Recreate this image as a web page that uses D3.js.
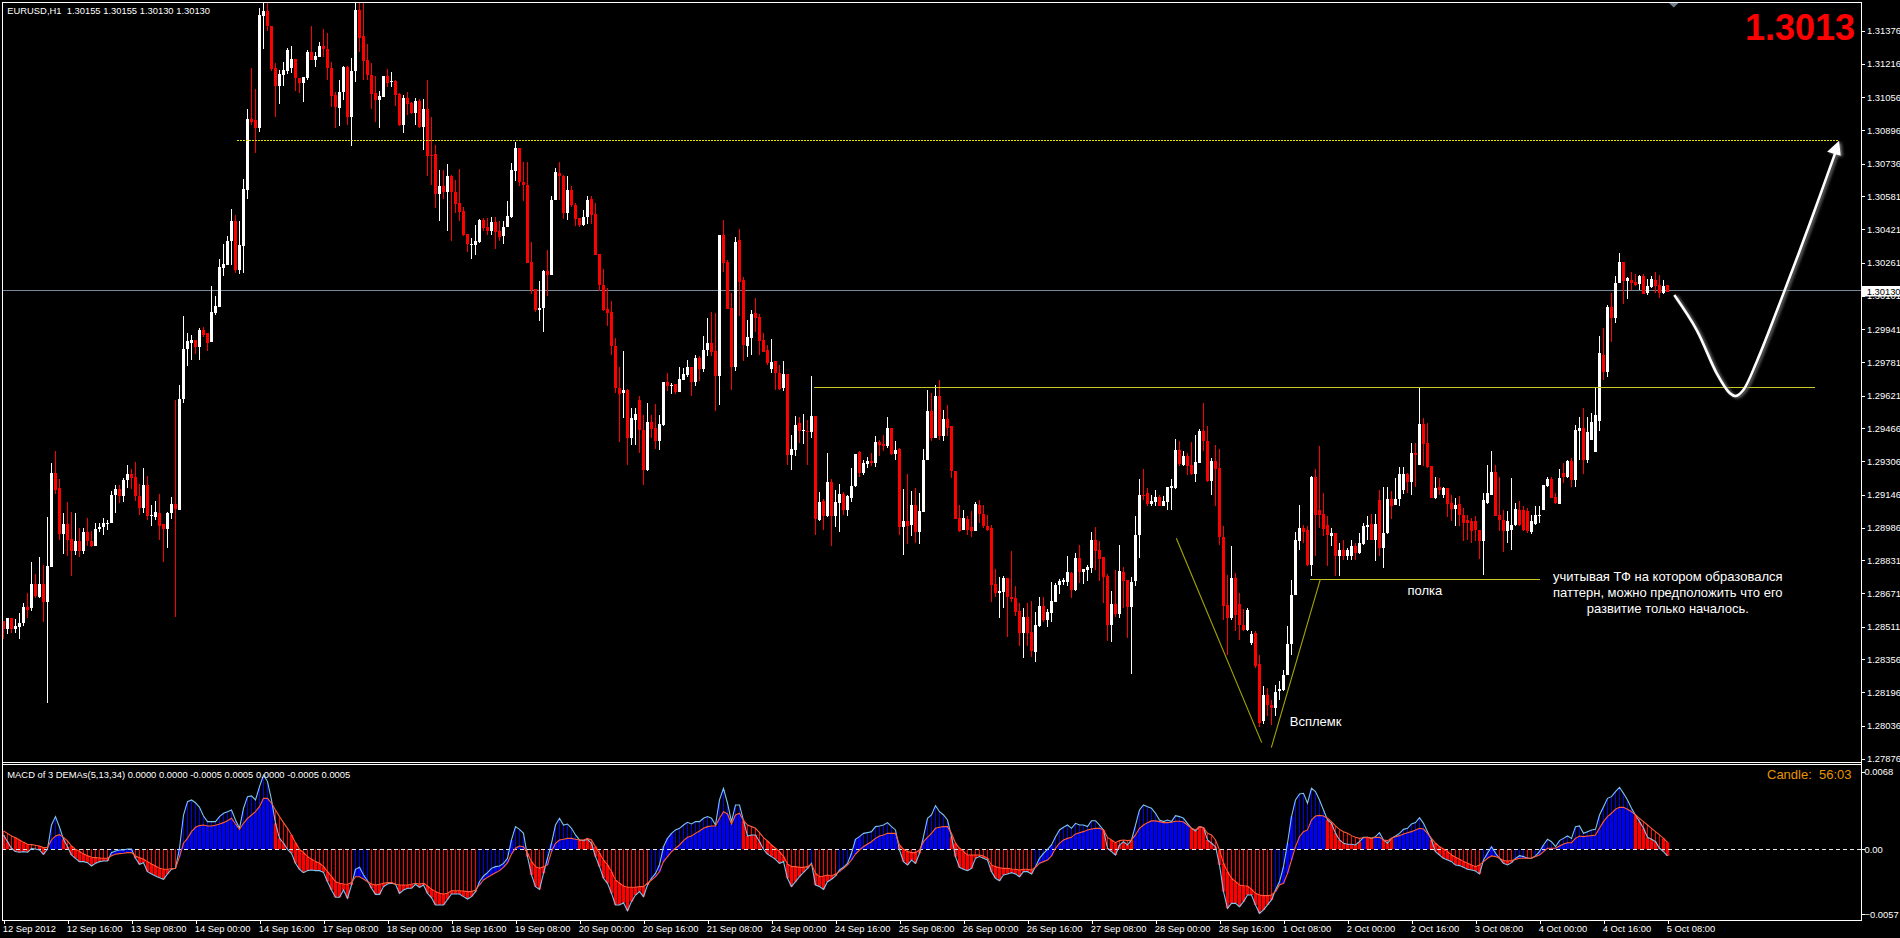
<!DOCTYPE html>
<html><head><meta charset="utf-8">
<script src="https://cdn.jsdelivr.net/npm/d3@7/dist/d3.min.js"></script>
<style>html,body{margin:0;padding:0;background:#000;overflow:hidden}svg{display:block}
text{font-family:"Liberation Sans",Arial,sans-serif;fill:#fff;white-space:pre}</style></head><body>
<svg id="c" width="1900" height="938"></svg>
<script>
// Prices are given in pips above basePrice
const basePrice=1.27;
const opens=[154,150,155.5,150,151,153,160.6,159.9,171.8,165.4,
171.8,162.8,180,224.9,217.7,195.8,200.6,193.2,187.3,192.3,
187.3,196.6,192.4,190,198.2,198.8,200.7,200.9,214.2,217.4,
213.7,221.7,224.6,223,214,208.3,219.3,204.1,204,205.9,
200.3,198.2,205.7,210.2,207.3,260.6,284.6,287.3,288.8,285.6,
293.9,292.3,287.8,301.9,304.8,323.5,325,336.3,346.2,322.7,
334.2,361,395.2,394.7,390.7,444.8,447,440,419.5,411,
416.5,418.4,419.5,424,415,412.3,414.7,427.5,423.5,425,
430.2,428.6,419.5,406.5,400.6,408,420.3,396,418.2,447.5,
435,423.5,416.3,407.5,404.3,405.9,415.8,412.9,413.4,407.2,
392.3,405.3,402.7,397.9,403.8,391.2,400,377.9,378.4,359.2,
363,360,367.8,360.1,354.7,350.9,339.8,334.9,334.7,336,
346.4,343.2,341.1,345.6,341.1,338.7,343.2,348,370.2,381.4,
364.9,363.5,326.4,313.6,303.5,304.5,321.9,320.3,356,369.3,
367.8,349.9,361.1,353.9,347.7,344.3,348,356.6,349.6,330.2,
315.5,304,302.4,285.9,265.7,263.3,264.9,241.7,250.5,260,
245.8,226.3,249.6,246.8,240.5,248,268.5,266.6,267.9,264,
269.8,272.2,275.7,268.8,280.4,275.1,283.9,287.4,283.7,271.7,
339.4,326.4,304.5,275.9,337,317.8,286.1,290,301.8,300,
289,284.2,275.1,278.8,273,265.8,272.7,233.8,236.2,249,
245,245.3,244.5,252.5,202.6,211.4,204.5,220.8,204.5,210.6,
214.8,207.4,213.2,218.6,234.9,225,229.5,230.6,229.8,239.9,
239,238.1,246.6,234.3,236.5,199,202.1,200.2,209.8,196.8,
206.1,231.1,254.9,241.8,261.8,242.9,251.1,247.4,226.1,203.4,
197.8,203.1,198.8,197.2,209.8,205.5,199.7,198.6,171.7,167.2,
167.8,174.6,165.4,165,158.7,148,155.8,148.6,139,151.5,
161.1,154.4,157.8,163,171.2,172.6,172.6,177,168.8,184.2,
177.4,178.4,179.4,192.8,188,184.6,175.5,152,162.1,157.3,
177.4,173.6,160.5,173,195,214.6,215.4,210.3,211.2,213.5,
209.3,210.9,217.8,217.8,236.2,229,233,229,224.7,229.8,
245.3,240.5,221,230.6,227.4,194.2,161.4,155.3,174.5,162,
152,149.7,143.3,148.1,133.4,105.7,118.5,113.7,112.1,120,
120.9,128.1,142.8,166.5,192.1,198.5,197.7,180.9,223.3,207.3,
205.2,200,194.5,196.1,184.9,187.8,185,184.9,189.7,186.5,
190.9,199,200.6,192.9,211.8,188.9,196,212.4,209.7,212.6,
216.6,224.4,220.9,234.5,228.9,248.6,239.3,228.4,212.9,218.5,
214.5,217.7,210.8,207.6,209.9,204.9,202.5,201.7,201.7,197.4,
192.1,210.5,214.5,225.4,204.9,202.5,196.9,197.4,200.1,207.3,
207.3,206.5,196.4,200.4,204.1,207.3,218.8,222.2,213.4,210.2,
224.9,223.3,230.8,221.7,245.4,246.5,231.3,240.9,235,250,
281.7,273.7,304.6,299.3,316.4,326.2,317.2,317.7,316.9,315.8,
319.8,311.6,314.2,317.7,315.1,311.3,315.1];
const highs=[154,155.5,155.5,155,157.7,162.5,167.3,182,176.6,184.6,
180.7,203.8,229.7,235.6,222,205.7,211.1,206.3,205.7,198.5,
198.5,203.3,197.2,200.9,200.9,203.5,202.5,216.1,219.1,219.1,
222.7,228.9,226.8,230.3,219.8,227.3,223.6,209.7,211.6,215,
200.3,206.3,213.5,260,267.3,300.6,292.3,291.5,289,294.7,
295,292.3,315,310.2,327.8,335,339,352,349,346,
366.4,400,419.5,409.6,448.3,451,451,440,421.9,418.7,
422.4,429.4,430,424,415,415.2,428.3,439.8,427.5,432.3,
438.4,436.3,422.4,408.3,413.9,420.6,420.8,424.6,451,451,
451,431.2,422,416,408.8,415.8,419.2,417.9,413.9,407.8,
406.7,408.3,403.5,405.1,404.6,404.8,413.9,396.3,382.7,370.7,
370.7,373.6,368.3,365.9,371.2,353,339.8,337.9,344.3,347.2,
347.5,347.5,348,348,345.9,345.9,355.5,373.9,384.3,381.4,
374.4,374.4,335.8,313.6,317.4,322.4,332.3,358.2,371.5,374.4,
368,367.5,362.7,354.7,347.7,351.5,357.9,358.2,354.7,330.2,
323,313.9,307.5,289.9,276,283.5,265.4,256.4,256.4,262,
253,258.6,253,258.3,253,268.8,273,268.2,267.9,275.9,
275.4,279.4,275.7,281.8,281,290.9,299.6,302.4,301.8,339.4,
346.6,327.4,311.4,338.6,342.3,319,298.6,303.4,309.2,301.5,
292.2,286.6,289.5,278.8,277,278.8,272.7,243.4,252.5,251.9,
253.5,250.6,271.7,252.5,215.9,212.5,234.6,222.1,217,219.9,
215.9,214.6,227.6,234.3,235.7,231.4,232.7,234.6,242.9,241,
243.4,251.9,246.6,240.2,237,217.3,224.7,216.2,217.8,215.4,
236.5,265,263.4,267.4,269.8,255.4,257.8,247.4,226.1,209.8,
207.4,204.2,206.6,210.9,212.2,209.8,205,200,178.7,174.9,
175.5,174.6,187.5,170.7,162.4,160,162.4,163.5,158,165.3,
165.3,159.7,172.6,172,173.9,174.6,185.1,177.4,186.6,190.4,
178.9,180.8,196.6,199,192.3,184.6,176.5,168.3,178.4,190.4,
179.8,173.6,175,204.2,222.1,226.9,217.8,214.6,217,214.6,
214.1,218.3,222.1,241.5,240.5,235.4,234.6,239.9,243.4,246.3,
258.6,247.4,232.2,238.3,236.5,199.7,176,190,176.9,167.3,
159.5,160,148.9,148.9,137.7,122.5,121.7,116.1,123.3,124.9,
130.2,151.3,173.7,196.4,209.7,200.1,199.3,223.6,227,238.2,
215.3,204.1,198.5,196.1,191.3,192.9,188.9,192.9,191.5,196.1,
200.9,204.4,205.2,205.2,216.9,218.5,218.5,216.1,222.5,228.1,
228,224.9,239.3,239.3,266.5,251.6,248.9,228.4,223.3,222.8,
218.5,217.7,214.5,212.9,213.7,208,204.9,203.3,204.1,197.7,
215.3,228.9,235.8,228.9,223,207,206.5,222.8,210.5,211.3,
208.9,208.1,204.9,209.2,209.2,219.3,223.3,223.3,215.3,226.8,
229.7,231.3,232.1,248.1,252,256,252,253.7,265.6,290.8,
294.5,305.7,311.3,319.6,330.5,326.2,319,321.4,320.6,320.1,
320.6,318,319.6,321.4,320.1,317.7,315.1];
const lows=[145.4,147.8,148,148,145,151.6,155.3,158.5,164.9,164.9,
153.2,114.5,180,215,192.9,186.2,185.2,175.3,185.7,184.4,
186.2,189.7,189.4,190,196.7,195.3,197.7,200.9,205.7,210.8,
211.1,217.7,217.2,211.3,204.9,205.7,202.5,199.6,202.5,192.9,
182.3,189,202.8,156,207,258.8,276.3,279.5,282,279.2,
290.2,283.5,287.8,301,304.8,319.5,325,325,321,320.8,
321,356.8,392.3,379,389,428.8,437.4,418,396.3,402.4,
411,416.8,417,408.8,407.8,403.5,413.9,423.5,420.3,424.8,
424.8,413.9,400.8,391,391.8,404.3,392.3,382.2,413.1,427.5,
413.9,413.9,400,393.9,390.7,405.9,410.4,410.4,401.4,391.8,
388.6,397.1,397.6,392.3,390.7,380,367.8,363.5,352.3,345.9,
356.6,341.1,336.3,349.9,345.9,339,331.2,327.8,329.9,335.5,
341.1,339.5,339.5,332.8,336.3,335,343.2,347.5,365.4,362.7,
355.8,325.9,311,302.4,298.2,292.6,309.9,320.3,356,356.3,
347,346.7,353,343.5,343.2,343.5,344.8,344.8,329.9,312.3,
302.7,295.8,281.9,263.5,240,251.6,228.9,238.5,238.5,234.8,
219.4,226,241.8,236.7,236.2,247.4,264.2,263,263,264,
269.5,270.9,261.8,266.6,269,273.3,281,281,254.6,257.5,
321.8,303.9,265,274.1,300.5,278.9,280.8,281.8,292.8,281.8,
282.9,277,273,264.7,264.7,264.2,229,226.6,233,239.4,
239,228.7,241.6,195.4,201.8,197.8,203.7,190.1,199,196.5,
204.7,204.5,210.9,218.3,222.9,224.2,227.4,228.2,227.9,233,
235.4,237,233.8,231,195.4,185.8,191,194.9,191.4,191.1,
206.1,231.1,240.2,241.8,241,240.2,242.6,222.6,203.1,196.5,
197.8,195.4,194.3,197,201,198.6,197,163.2,165.3,155.2,
160.2,146.4,163.2,156.3,141.9,136,141.9,136.8,134.2,151.2,
153.4,151.2,153.6,163,166.9,171.2,170.7,165,168.3,172,
171.7,173.1,177,178.4,173.1,162.4,144.3,143.8,156,155.4,
160.2,145.8,128.5,170.9,184.2,212,209,209,209.3,209,
209.3,207.1,207.4,217.3,228.2,228.2,224.2,224.2,220.5,229.8,
235.4,220.5,214.6,209.3,190.6,154.5,137.7,154.5,148.9,144.9,
148.9,148.9,142.2,131.3,103,104.6,108.1,103.8,108.4,116,
120,128.1,137.7,166.5,188.1,191.3,180.1,175.3,185,198.5,
194.5,180.4,189.7,175.3,175.3,183.3,183.3,183.3,183,186.2,
190.5,192.9,192.9,182.5,184.9,179.3,195.8,203,209.7,208.9,
215,215.3,214.5,218.5,228.9,228.4,227.3,212.9,212.4,214.5,
213,204,202,199.3,199.3,192.1,192.9,191.3,192.1,183.6,
176.1,210.2,214.5,204.1,197,186.8,191.3,187.8,199.3,199.3,
196.9,196.1,195.8,200.1,200.9,207.3,218.5,212.9,210,210.2,
220.1,222.5,218.5,218.5,231.3,224.6,230,240.9,235,245.4,
269.7,271.3,288.1,297.2,316.4,306.2,308.6,312.9,315,312.9,
311,310.5,313.7,311.3,309.2,311,312];
const closes=[150,155.5,150,151.6,153,160.6,159.3,171.8,165.7,171.8,
162.8,180.4,224.9,216.9,195.8,200.6,192.9,187.5,192.3,187.3,
196.6,192.1,190,198.2,198.8,200.9,201,214.5,217.4,213.7,
221.7,224.6,222.5,213.7,208.3,219.3,204.1,204.6,206.3,199.6,
198.2,206,210.2,207.6,260.6,284.6,288.3,288.8,285.6,293.9,
291.5,287.5,302.4,305.4,324,325.6,336.6,346.2,322.7,334.7,
361.4,395.2,393.7,390.7,445,447,439.8,419.2,411,416.8,
418.7,428.3,424,415,412.3,415.2,427.5,423.5,425.4,430.2,
428.6,419.5,406.2,400.8,408.3,420.3,396,418.2,447.5,434.2,
423,416.1,407.2,404.3,406.2,415.8,412.3,413.4,406.7,392,
405.3,402.4,397.9,403.8,391.2,400,377.4,377.4,359.2,363,
359.8,367.5,359.8,354.4,350.5,339.5,335.2,335.2,336.6,346.7,
342.7,341.1,345.4,340.6,338.4,343.2,348.6,370.7,381.4,364.8,
363.2,325.9,313.1,303.5,304.5,321.9,320.3,356.3,369.6,367.5,
349.9,361.1,353.9,347.2,344.3,348,356.3,349.1,329.9,315.5,
303.2,301.9,285.9,265.6,263,265,241.7,251.3,253.2,245.7,
226.6,249.6,246.1,240.5,248.7,268.8,266.6,267.4,264,270.1,
272.7,275.9,268.8,280.4,275.1,284.2,287.4,283.2,271.4,339.4,
326.1,303.9,275.9,336.2,316.7,286.6,290.3,301.5,299.6,288.5,
283.2,277.8,278.4,273,265.5,272.7,233.8,236.5,248.2,245,
245.5,245,252.5,203.1,211.2,204.5,220.8,204.5,211.2,214.8,
207.4,213.8,218.9,234.3,225,229.8,230.6,229.8,239.9,238.6,
238.1,246.6,234.3,236.2,199,202.1,199.7,209.8,196.8,206.9,
231.4,254.9,241.8,261.8,242.9,251.1,246.6,225.8,203.1,197.2,
203.6,197.8,197.2,210.3,205.5,199.4,197.8,171.2,167.2,168.3,
174.6,165.3,164.3,158.2,148,155.8,148,139.4,152,161.1,
154.4,158.2,163.5,171.2,173.1,173.6,177.4,168.8,184.2,177.4,
178.9,179.8,192.8,187.5,183.7,175,152,162.1,157.3,177.9,
173.1,160.5,172.6,195,214.6,213.8,210.3,211.7,213.5,209.3,
211.7,218.3,218.6,236.2,229.5,233,228.2,224.7,230.3,245.3,
240.2,221,230.6,226.9,194.1,160.9,155.3,174.5,156.9,152,
149.7,159.3,147.8,132.1,104.9,118.5,113.7,112.1,119.8,121.2,
128.1,142.8,166.5,192.9,198.5,196.4,180.9,223.3,204.9,204.9,
198.2,195,196.1,184.9,187.8,184.9,187.8,189.7,186.5,191.3,
199.6,199.8,192.9,200.4,188.9,196.1,212.4,208.9,212.5,224.6,
224.4,220.9,234.5,233.7,248.6,239,228.1,212.9,217.7,216.9,
217.7,210.2,207.6,209.5,204.9,200.9,200.9,196.9,197.7,192.1,
211.8,215.3,225.4,204.4,202.5,196.9,201.7,200.1,207.6,200.1,
197.7,196.9,202,204.9,204.9,219,222.2,212.9,210.8,222.8,
223.3,230.8,221.7,245.7,246.5,231.3,244.9,249.4,253,282.5,
273.7,304.9,299.3,316.4,326.2,317.2,318.5,316.1,315.3,319.8,
311,314.8,318,314.8,311.3,314.8,312];
// MACD values in units of 0.00001
const macdLine=[126,67,9,-20,-26,-20,-26,6,3,-6,-44,3,213,287,193,88,23,-50,-79,-108,
-108,-117,-146,-123,-108,-102,-102,-29,-15,-6,-6,3,3,-79,-132,-117,-196,-216,-234,-249,
-263,-216,-175,-167,9,301,418,433,409,368,292,243,243,243,287,316,330,345,257,184,
360,462,468,433,550,652,594,433,228,96,53,0,-35,-123,-175,-205,-187,-181,-187,-187,
-202,-284,-357,-421,-421,-357,-430,-313,-175,-158,-225,-275,-342,-395,-395,-327,-304,-298,-307,-386,
-357,-342,-342,-307,-333,-313,-386,-424,-488,-488,-488,-439,-392,-392,-392,-415,-436,-415,-371,-284,
-234,-205,-167,-152,-146,-123,-79,82,199,175,140,-64,-225,-327,-351,-211,-79,53,213,272,
213,222,184,126,82,76,88,53,-64,-152,-254,-298,-386,-488,-488,-468,-538,-459,-401,-371,
-415,-313,-254,-211,-137,23,96,140,170,184,213,237,222,243,243,272,287,272,213,433,
535,404,243,389,389,251,117,126,126,67,0,-41,-64,-88,-123,-108,-254,-327,-284,-240,
-202,-167,-123,-313,-327,-351,-284,-263,-234,-181,-158,-123,-35,88,111,140,146,155,199,205,
213,234,199,170,-6,-108,-137,-94,-123,-35,111,272,301,383,330,301,257,111,-64,-158,
-175,-187,-167,-79,-64,-79,-94,-196,-254,-275,-225,-216,-205,-216,-240,-196,-196,-216,-152,-79,
-35,0,38,111,170,193,213,184,228,213,213,199,251,251,213,170,9,-20,-50,38,
67,38,82,213,345,389,374,360,316,257,243,257,243,295,287,272,228,184,161,199,
190,82,53,23,-137,-371,-518,-474,-474,-503,-459,-401,-401,-488,-561,-532,-488,-444,-357,-284,
-152,53,287,433,485,491,404,535,506,433,345,257,228,140,82,53,44,44,38,67,
105,105,96,111,146,82,53,96,117,140,175,184,222,234,278,228,155,82,-20,-50,
-79,-94,-108,-137,-143,-158,-175,-181,-190,-216,-94,-35,23,-35,-79,-123,-137,-117,-79,-56,
-64,-79,-79,-58,-20,38,88,67,23,76,96,117,96,199,205,140,155,170,175,301,
374,447,462,506,544,491,433,360,301,243,184,105,88,67,9,-20,-58];
const signalLine=[161,140,117,102,82,61,44,41,35,29,15,15,82,117,129,105,73,29,0,-20,
-41,-56,-70,-73,-76,-79,-79,-56,-44,-38,-35,-29,-29,-58,-73,-88,-108,-129,-146,-167,
-175,-175,-170,-167,-64,53,96,155,193,208,213,205,205,211,222,234,251,272,222,175,
228,272,301,330,374,447,447,404,345,287,234,184,126,58,0,-29,-64,-88,-108,-123,
-152,-196,-240,-284,-298,-304,-307,-292,-240,-240,-260,-284,-304,-313,-307,-298,-292,-292,-307,-313,
-313,-313,-307,-298,-304,-298,-322,-351,-371,-386,-392,-386,-363,-363,-363,-366,-371,-371,-357,-313,
-269,-246,-225,-205,-187,-158,-117,-41,9,29,23,-35,-108,-152,-167,-152,-137,-20,53,82,
88,96,96,88,82,82,96,82,23,-35,-94,-137,-196,-269,-298,-322,-333,-333,-333,-327,
-327,-298,-269,-240,-196,-108,-64,-20,9,38,76,105,117,140,161,184,199,205,205,272,
330,310,222,301,316,251,213,199,184,146,102,73,38,9,-20,-64,-129,-152,-152,-158,
-158,-152,-129,-211,-240,-234,-225,-234,-216,-196,-167,-137,-94,-41,-6,23,47,67,96,117,
126,140,140,140,38,0,-20,-29,-29,-6,67,105,140,184,193,199,199,140,53,9,
-20,-50,-50,-50,-50,-58,-79,-137,-152,-161,-167,-167,-173,-175,-181,-175,-175,-181,-158,-123,
-108,-94,-58,9,53,82,96,105,135,146,155,170,178,184,184,170,105,82,58,76,
82,76,82,126,184,213,234,249,249,243,234,234,237,246,246,240,213,184,170,199,
190,140,126,82,-6,-123,-196,-254,-284,-313,-319,-322,-351,-386,-401,-406,-406,-401,-371,-313,
-298,-211,-94,23,111,155,170,257,292,298,292,272,243,205,175,155,140,120,105,96,
102,105,96,105,105,82,76,96,111,120,135,146,155,170,184,178,140,96,53,23,
3,-20,-50,-70,-88,-108,-123,-137,-152,-137,-108,-79,-58,-64,-79,-99,-102,-99,-88,-79,
-79,-79,-79,-64,-50,-20,9,9,9,29,47,58,58,96,117,111,117,120,126,184,
243,287,316,351,368,368,351,330,301,272,243,213,184,155,126,96,61];
const priceTicks=[1.31376,1.31216,1.31056,1.30896,1.30736,1.30581,1.30421,1.30261,1.30101,1.29941,1.29781,1.29621,1.29466,1.29306,1.29146,1.28986,1.28831,1.28671,1.28511,1.28356,1.28196,1.28036,1.27876];
const macdTicks=[0.0068,0,-0.0057];
const timeLabels=["12 Sep 2012","12 Sep 16:00","13 Sep 08:00","14 Sep 00:00","14 Sep 16:00","17 Sep 08:00","18 Sep 00:00","18 Sep 16:00","19 Sep 08:00","20 Sep 00:00","20 Sep 16:00","21 Sep 08:00","24 Sep 00:00","24 Sep 16:00","25 Sep 08:00","26 Sep 00:00","26 Sep 16:00","27 Sep 08:00","28 Sep 00:00","28 Sep 16:00","1 Oct 08:00","2 Oct 00:00","2 Oct 16:00","3 Oct 08:00","4 Oct 00:00","4 Oct 16:00","5 Oct 08:00"];
const barsPerLabel=16;
// Drawn objects: [bar, pips above basePrice]
const resistanceDashed=[[58.3,384.8],[458.9,384.8]];
const necklineSolid=[[202.6,266.2],[452.9,266.2]];
const spikeLeft=[[293.2,193.6],[314.55,95.4]];
const spikeRight=[[316.95,93],[329.2,173.9]];
const shelfLine=[[326.7,173.9],[384.2,173.9]];
const forecastPath=[[417.7,310.5],[423.3,293.7],[428.3,272.9],[431.6,263.3],[433.05,262],[434.95,264.9],[438.3,278.5],[445,311.3],[451.6,345],[457.9,378.6]];
const forecastHead=[[458.9,384.7],[455.9,379.4],[459.3,377.5]];
const bidPrice=312.5;

const W=1900,H=938,L=2,R=1861,T=2,B=762,MT=765,MB=920;
const svg=d3.select("#c");
const x=d3.scaleLinear().domain([0,1]).range([3.5,7.5]);
const price=p=>basePrice+p/1e4;
const y=d3.scaleLinear().domain([price(451.2),price(86.1)]).range([T+.3,B]);
const ym=d3.scaleLinear().domain([0.007395,-0.0062]).range([MT,MB]);
const px=d=>x(d[0]),py=d=>y(price(d[1]));
const defs=svg.append("defs");
defs.append("clipPath").attr("id","mainClip").append("rect").attr("x",L).attr("y",T).attr("width",R-L).attr("height",B-T);
defs.append("clipPath").attr("id","macdClip").append("rect").attr("x",L).attr("y",MT).attr("width",R-L).attr("height",MB-MT);

const bars=d3.range(closes.length);
const gm=svg.append("g").attr("clip-path","url(#mainClip)");
// bid line
gm.append("line").attr("x1",L).attr("x2",R).attr("y1",y(price(bidPrice))).attr("y2",y(price(bidPrice))).attr("stroke","#778899").attr("shape-rendering","crispEdges");
const col=i=>closes[i]>=opens[i]?"#fff":"#f00";
gm.append("g").attr("shape-rendering","crispEdges").selectAll("rect").data(bars).join("rect")
 .attr("x",i=>x(i)-.5).attr("width",1).attr("y",i=>y(price(highs[i]))).attr("height",i=>Math.max(1,y(price(lows[i]))-y(price(highs[i])))).attr("fill",col);
gm.append("g").attr("shape-rendering","crispEdges").selectAll("rect").data(bars).join("rect")
 .attr("x",i=>x(i)-1.5).attr("width",3).attr("y",i=>y(price(Math.max(opens[i],closes[i])))).attr("height",i=>Math.max(1,Math.abs(y(price(opens[i]))-y(price(closes[i]))))).attr("fill",col);
// objects
const ln=d3.line().x(px).y(py);
gm.append("path").attr("d",ln(resistanceDashed)).attr("stroke","#e6e600").attr("stroke-dasharray","2,1").attr("fill","none").attr("shape-rendering","crispEdges");
gm.append("path").attr("d",ln(necklineSolid)).attr("stroke","#c9c922").attr("fill","none").attr("shape-rendering","crispEdges");
gm.append("path").attr("d",ln(shelfLine)).attr("stroke","#c9c922").attr("fill","none").attr("shape-rendering","crispEdges");
gm.append("path").attr("d",ln(spikeLeft)).attr("stroke","#a6a600").attr("stroke-width",1.1).attr("fill","none");
gm.append("path").attr("d",ln(spikeRight)).attr("stroke","#a6a600").attr("stroke-width",1.1).attr("fill","none");
const fg=gm.append("g").style("filter","drop-shadow(2px 1px 1.5px #777)");
fg.append("path").attr("d",d3.line().x(px).y(py).curve(d3.curveCatmullRom)(forecastPath)).attr("stroke","#fff").attr("stroke-width",2.6).attr("fill","none");
fg.append("path").attr("d",ln(forecastHead)+"Z").attr("fill","#fff");
// marker triangle
svg.append("path").attr("d","M1669,3L1678.5,3L1673.7,7.5Z").attr("fill","#708090");

// MACD pane
const gh=svg.append("g").attr("clip-path","url(#macdClip)");
const m=i=>macdLine[i]/1e5,s=i=>signalLine[i]/1e5;
const hc=i=>macdLine[i]>signalLine[i]?"#0000f0":"#f00";
gh.append("g").attr("shape-rendering","crispEdges").selectAll("rect").data(bars).join("rect")
 .attr("x",i=>x(i)-.5).attr("width",1).attr("fill",hc)
 .attr("y",i=>ym(Math.max(0,m(i),s(i)))).attr("height",i=>ym(Math.min(0,m(i),s(i)))-ym(Math.max(0,m(i),s(i))));
const band=i=>{const a=m(i),b=s(i);
 if(a>=0&&b>=0)return[0,Math.min(a,b)];
 return[Math.min(a,b),Math.max(a,b)];};
gh.append("g").selectAll("rect").data(bars).join("rect")
 .attr("x",i=>x(i)-1.7).attr("width",3.4).attr("fill",hc)
 .attr("y",i=>ym(band(i)[1])).attr("height",i=>Math.max(0,ym(band(i)[0])-ym(band(i)[1])));
const lm=d3.line().x(i=>x(i)).y(i=>ym(m(i)));
const ls=d3.line().x(i=>x(i)).y(i=>ym(s(i)));
gh.append("line").attr("x1",L).attr("x2",R).attr("y1",ym(0)).attr("y2",ym(0)).attr("stroke","#e8e8e8").attr("stroke-dasharray","4,3").attr("shape-rendering","crispEdges");
gh.append("path").attr("d",lm(bars)).attr("stroke","#7cc4ee").attr("stroke-width",1.1).attr("fill","none");
gh.append("path").attr("d",ls(bars)).attr("stroke","#ff5c38").attr("stroke-width",1.1).attr("fill","none");

// Frame
const frame=svg.append("g").attr("stroke","#fff").attr("shape-rendering","crispEdges");
[[L,T+.5,R,T+.5],[L+.5,T,L+.5,B+3],[L,B+.5,R,B+.5],[L,B+2.5,R,B+2.5],[L+.5,MT,L+.5,MB],[L,MB+.5,R,MB+.5],[R+.5,T,R+.5,MB+1]].forEach(a=>frame.append("line").attr("x1",a[0]).attr("y1",a[1]).attr("x2",a[2]).attr("y2",a[3]));

// Axes
const FS="9.4px";
function styleAxis(g){g.select(".domain").remove();g.selectAll("line").attr("stroke","#fff").attr("shape-rendering","crispEdges");g.selectAll("text").style("font-size",FS).attr("fill","#fff").style("fill","#fff");}
svg.append("g").attr("transform",`translate(${R+.5},0)`).call(d3.axisRight(y).tickValues(priceTicks).tickFormat(d3.format(".5f")).tickSize(3).tickPadding(2.5)).call(styleAxis).style("font-family",'"Liberation Sans"');
svg.append("g").attr("transform",`translate(${R+.5},0)`).call(d3.axisRight(ym).tickValues(macdTicks).tickFormat(d=>d===0?"0.00":d3.format(".4f")(d)).tickSize(3).tickPadding(0)).call(styleAxis);
const xt=d3.axisBottom(x).tickValues(timeLabels.map((_,k)=>k*barsPerLabel)).tickFormat(d=>timeLabels[d/barsPerLabel]).tickSize(3).tickPadding(1.5);
svg.append("g").attr("transform",`translate(0,${MB+.5})`).call(xt).call(styleAxis).selectAll("text").attr("text-anchor","start").attr("dx",-1.3);

// current price tag
svg.append("rect").attr("x",R+1).attr("y",286).attr("width",38).attr("height",10.5).attr("fill","#fff");
svg.append("text").attr("x",1866.7).attr("y",294.5).style("font-size",FS).style("fill","#000").text("1.30130");

function label(t,xx,yy,size,anchor,color,weight){const e=svg.append("text").attr("x",xx).attr("y",yy).attr("dominant-baseline","central").attr("text-anchor",anchor||"start").style("font-size",size).text(t);
 if(color)e.style("fill",color);if(weight)e.style("font-weight",weight);return e;}
label("EURUSD,H1  1.30155 1.30155 1.30130 1.30130",7.3,10.8,FS);
label("MACD of 3 DEMAs(5,13,34) 0.0000 0.0000 -0.0005 0.0005 0.0000 -0.0005 0.0005",7.3,774.5,FS);
label("Candle:  56:03",1767,774,"13px","start","#e69500");
label("1.3013",1745,27,"36px","start","#f00","bold");
label("Всплемк",1289.8,721.7,"13px");
label("полка",1424.8,590,"13px","middle");
label("учитывая ТФ на котором образовался",1667.8,576,"13px","middle");
label("паттерн, можно предположить что его",1667.8,592.3,"13px","middle");
label("развитие только началось.",1667.8,608.3,"13px","middle");
</script></body></html>
